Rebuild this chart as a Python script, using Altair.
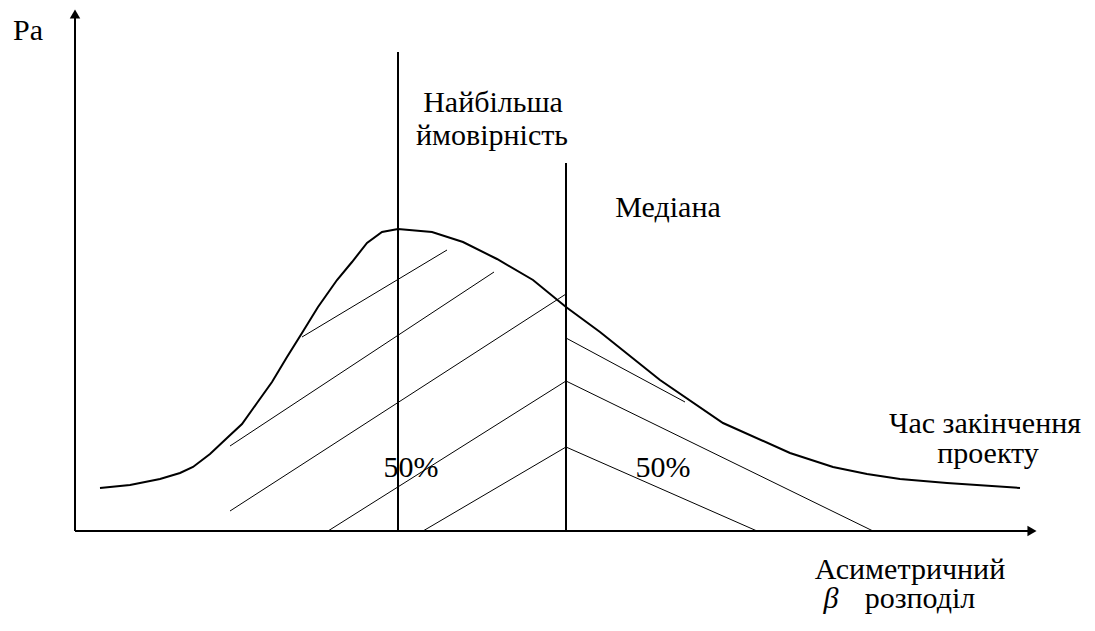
import altair as alt
import pandas as pd

# Coordinate system: origin at the axes' intersection, x = time, y = probability density (arbitrary units)
curve_x = [25, 55, 85, 105, 118, 135, 152, 167, 182, 197, 212, 227, 243, 262, 277, 292, 307, 323,
           357, 388, 422, 458, 491, 525, 585, 648, 715, 758, 792, 825, 872, 945]
curve_y = [43, 46, 52, 58, 64, 77, 93, 107, 128, 149, 174, 198, 224, 251, 269, 288, 299, 302,
           299, 289, 272, 251, 224, 199, 151, 108, 78, 64, 57, 52, 48, 43]

# vertical markers: most likely value (mode) and median
marker_x = [323, 491]
marker_top = [479, 368]

# hatching segments (x1, y1, x2, y2)
hatch_x1 = [227, 155, 155, 253, 348, 491, 491, 491]
hatch_y1 = [194, 85, 20, 0, 0, 193, 150, 84]
hatch_x2 = [372, 419, 491, 491, 491, 610, 798, 682]
hatch_y2 = [281, 259, 237, 150, 84, 129, 0, 0]

# axes
axis_x1 = [0, 0]
axis_y1 = [0, 0]
axis_x2 = [957, 0]
axis_y2 = [0, 517]
arrow_x = [957, 0]
arrow_y = [0, 517]
arrow_shape = ["triangle-right", "triangle-up"]

# labels
label_text = ["Найбільша", "ймовірність", "Медіана", "50%", "50%",
              "Час закінчення", "проекту", "Асиметричний", "розподіл"]
label_x = [418, 417, 593, 336, 588, 910, 913, 835, 845]
label_y = [419, 386, 314, 54, 54, 98, 68, -48, -77]

ylabel_text = ["Pa"]
ylabel_x = [-62]
ylabel_y = [491]

beta_text = ["β"]
beta_x = [756]
beta_y = [-77]

XD = [-67, 1012]
YD = [-92, 523]
xs = alt.Scale(domain=XD, nice=False, zero=False)
ys = alt.Scale(domain=YD, nice=False, zero=False)
FONT = "Liberation Serif"
FS = 30

curve_df = pd.DataFrame({"x": curve_x, "y": curve_y, "i": list(range(len(curve_x)))})
curve = alt.Chart(curve_df).mark_line(color="black", strokeWidth=2, interpolate="linear").encode(
    x=alt.X("x:Q", scale=xs, axis=None),
    y=alt.Y("y:Q", scale=ys, axis=None),
    order="i:Q",
)

mk_df = pd.DataFrame({"x": marker_x, "y": [0, 0], "y2": marker_top})
markers = alt.Chart(mk_df).mark_rule(color="black", strokeWidth=2).encode(
    x=alt.X("x:Q", scale=xs, axis=None),
    y=alt.Y("y:Q", scale=ys, axis=None),
    y2="y2:Q",
)

h_df = pd.DataFrame({"x": hatch_x1, "y": hatch_y1, "x2": hatch_x2, "y2": hatch_y2})
hatch = alt.Chart(h_df).mark_rule(color="black", strokeWidth=1).encode(
    x=alt.X("x:Q", scale=xs, axis=None),
    y=alt.Y("y:Q", scale=ys, axis=None),
    x2="x2:Q",
    y2="y2:Q",
)

ax_df = pd.DataFrame({"x": axis_x1, "y": axis_y1, "x2": axis_x2, "y2": axis_y2})
axes = alt.Chart(ax_df).mark_rule(color="black", strokeWidth=2).encode(
    x=alt.X("x:Q", scale=xs, axis=None),
    y=alt.Y("y:Q", scale=ys, axis=None),
    x2="x2:Q",
    y2="y2:Q",
)

ar_df = pd.DataFrame({"x": arrow_x, "y": arrow_y, "s": arrow_shape})
arrows = alt.Chart(ar_df).mark_point(filled=True, color="black", opacity=1, size=110).encode(
    x=alt.X("x:Q", scale=xs, axis=None),
    y=alt.Y("y:Q", scale=ys, axis=None),
    shape=alt.Shape("s:N", scale=None, legend=None),
)

lab_df = pd.DataFrame({"t": label_text, "x": label_x, "y": label_y})
labels = alt.Chart(lab_df).mark_text(font=FONT, fontSize=FS, color="black", align="center",
                                     baseline="alphabetic").encode(
    x=alt.X("x:Q", scale=xs, axis=None),
    y=alt.Y("y:Q", scale=ys, axis=None),
    text="t:N",
)

yl_df = pd.DataFrame({"t": ylabel_text, "x": ylabel_x, "y": ylabel_y})
ylabel = alt.Chart(yl_df).mark_text(font=FONT, fontSize=FS, color="black", align="left",
                                    baseline="alphabetic").encode(
    x=alt.X("x:Q", scale=xs, axis=None),
    y=alt.Y("y:Q", scale=ys, axis=None),
    text="t:N",
)

b_df = pd.DataFrame({"t": beta_text, "x": beta_x, "y": beta_y})
beta = alt.Chart(b_df).mark_text(font=FONT, fontSize=FS, fontStyle="italic", color="black",
                                 align="center", baseline="alphabetic").encode(
    x=alt.X("x:Q", scale=xs, axis=None),
    y=alt.Y("y:Q", scale=ys, axis=None),
    text="t:N",
)

chart = alt.layer(hatch, markers, axes, arrows, curve, labels, ylabel, beta).properties(
    width=1079, height=615, padding=0, autosize=alt.AutoSizeParams(type="none"),
    background="white",
).configure_view(stroke=None)

chart.save("out.html", embed_options={"renderer": "svg", "actions": False})
